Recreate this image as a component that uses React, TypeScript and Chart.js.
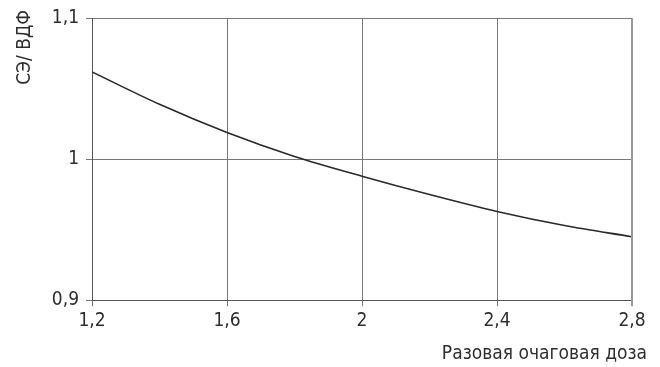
import React, { useEffect, useRef } from "react";
import { Chart, registerables } from "chart.js";

Chart.register(...registerables);

const doses = [1.2, 1.4, 1.6, 1.8, 2.0, 2.2, 2.4, 2.6, 2.8];
const ratio = [1.062, 1.039, 1.019, 1.002, 0.988, 0.975, 0.963, 0.953, 0.945];
const xTicks = [1.2, 1.6, 2.0, 2.4, 2.8];
const yTicks = [0.9, 1.0, 1.1];
const yTitle = "СЭ/ ВДФ";
const xTitle = "Разовая очаговая доза";

const FONT = "'Liberation Sans Narrow', 'DejaVu Sans Condensed', 'Open Sans', sans-serif";
const fmt = (v: number) => String(Math.round(v * 10) / 10).replace(".", ",");

export default function App() {
  const ref = useRef<HTMLCanvasElement>(null);
  useEffect(() => {
    const chart = new Chart(ref.current!, {
      type: "line",
      data: {
        datasets: [
          {
            data: doses.map((d, i) => ({ x: d, y: ratio[i] })),
            borderColor: "#2a2a2a",
            borderWidth: 1.6,
            pointRadius: 0,
            cubicInterpolationMode: "monotone",
            fill: false,
          },
        ],
      },
      options: {
        animation: false,
        responsive: false,
        layout: { padding: { top: 10, right: 13, left: 0, bottom: 0 } },
        plugins: {
          legend: { display: false },
          tooltip: { enabled: false },
          title: {
            display: true,
            text: yTitle,
            position: "left",
            align: "end",
            color: "#2e2e2e",
            font: { family: FONT, size: 19, weight: "normal" },
            padding: { top: 14, bottom: 0 },
          },
          subtitle: {
            display: true,
            text: xTitle,
            position: "bottom",
            align: "end",
            color: "#2e2e2e",
            font: { family: FONT, size: 19, weight: "normal" },
            padding: { top: 0, bottom: 2 },
          },
        },
        scales: {
          x: {
            type: "linear",
            min: 1.2,
            max: 2.8,
            afterBuildTicks: (s: any) => {
              s.ticks = xTicks.map((v) => ({ value: v }));
            },
            afterFit: (s: any) => {
              s.height = 42;
            },
            ticks: {
              callback: (v: any) => fmt(Number(v)),
              color: "#2e2e2e",
              font: { family: FONT, size: 19 },
              padding: 3,
              maxRotation: 0,
            },
            grid: { color: "#777777", lineWidth: 1, tickLength: 6 },
            border: { color: "#555555", width: 1 },
          },
          xTop: {
            type: "linear",
            position: "top",
            display: true,
            afterFit: (s: any) => {
              s.height = 8;
            },
            ticks: { display: false },
            grid: { display: false },
            border: { display: false },
          },
          y: {
            type: "linear",
            min: 0.9,
            max: 1.1,
            afterBuildTicks: (s: any) => {
              s.ticks = yTicks.map((v) => ({ value: v }));
            },
            afterFit: (s: any) => {
              s.width = 55.2;
            },
            ticks: {
              callback: (v: any) => fmt(Number(v)),
              color: "#2e2e2e",
              font: { family: FONT, size: 19 },
              padding: 7,
            },
            grid: {
              color: "#777777",
              lineWidth: 1,
              tickLength: 6,
            },
            border: { color: "#555555", width: 1 },
          },
          yRight: {
            type: "linear",
            position: "right",
            display: true,
            afterFit: (s: any) => {
              s.width = 15;
            },
            ticks: { display: false },
            grid: { display: false },
            border: { display: false },
          },
        },
      },
      plugins: [
        {
          id: "rightBorder",
          afterDraw: (c: any) => {
            const { ctx, chartArea } = c;
            ctx.save();
            ctx.strokeStyle = "#9a9a9a";
            ctx.lineWidth = 2;
            ctx.beginPath();
            ctx.moveTo(chartArea.right, chartArea.top);
            ctx.lineTo(chartArea.right, chartArea.bottom + 6);
            ctx.stroke();
            ctx.restore();
          },
        },
      ],
    } as any);
    return () => chart.destroy();
  }, []);
  return (
    <div style={{ position: "fixed", left: 0, top: 0, width: 660, height: 367, background: "#fff" }}>
      <canvas ref={ref} width={660} height={367} style={{ display: "block" }} />
    </div>
  );
}
